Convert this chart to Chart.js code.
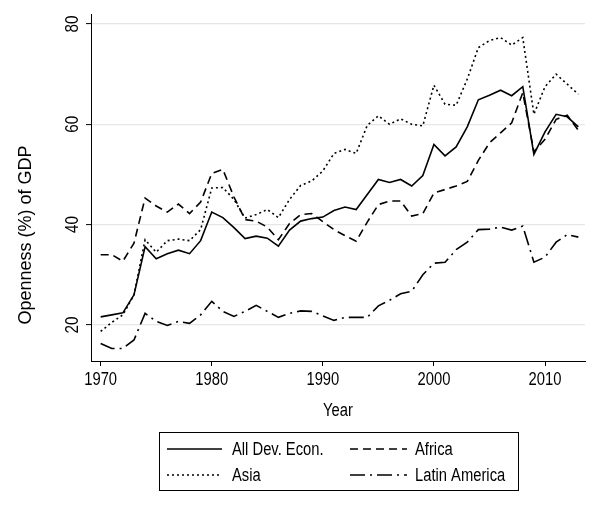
<!DOCTYPE html>
<html>
<head>
<meta charset="utf-8">
<script src="https://cdn.jsdelivr.net/npm/chart.js@4"></script>
<style>
  html, body { margin: 0; padding: 0; background: #ffffff; }
  canvas { display: block; }
</style>
</head>
<body>
<canvas id="c" width="601" height="513"></canvas>
<script>
const years = [1970,1971,1972,1973,1974,1975,1976,1977,1978,1979,1980,1981,1982,1983,1984,1985,1986,1987,1988,1989,1990,1991,1992,1993,1994,1995,1996,1997,1998,1999,2000,2001,2002,2003,2004,2005,2006,2007,2008,2009,2010,2011,2012,2013];
const allDevEcon = [21.6,22.0,22.4,26.0,35.6,33.2,34.2,34.9,34.2,36.8,42.5,41.4,39.4,37.2,37.7,37.3,35.7,38.9,40.7,41.2,41.5,42.8,43.5,43.0,46.0,49.0,48.4,49.0,47.7,49.8,56.0,53.7,55.5,59.5,64.9,65.8,66.8,65.7,67.5,54.0,58.5,62.0,61.5,59.5];
const africa = [34.0,34.0,32.7,36.3,45.3,43.7,42.5,44.1,42.2,44.5,50.2,51.0,45.5,41.0,40.7,39.5,37.0,40.2,42.0,42.2,40.6,39.0,37.8,36.7,40.5,44.0,44.7,44.7,41.7,42.2,46.3,47.0,47.7,48.6,52.8,56.3,58.3,60.3,66.3,54.5,57.0,61.0,61.8,58.8];
const asia = [18.7,20.5,22.0,26.0,37.0,34.5,36.8,37.1,36.8,39.0,47.3,47.4,45.0,41.3,42.0,43.0,41.4,45.0,47.8,48.7,50.7,54.2,55.0,54.2,59.8,61.7,60.0,61.1,60.0,59.7,67.8,64.0,63.8,69.0,75.3,76.7,77.3,75.8,77.3,62.0,67.5,70.0,68.0,66.0];
const latinAmerica = [16.3,15.3,15.3,17.0,22.3,20.7,19.9,20.7,20.3,22.0,24.7,22.7,21.7,22.7,23.9,22.7,21.5,22.3,22.8,22.7,21.8,20.9,21.5,21.5,21.5,23.8,24.9,26.2,26.7,30.0,32.3,32.5,35.0,36.5,39.0,39.1,39.5,38.9,39.7,32.5,33.5,36.5,38.0,37.5];
const xTickValues = [1970,1980,1990,2000,2010];
const yTickValues = [20,40,60,80];
const seriesLabels = ["All Dev. Econ.","Africa","Asia","Latin America"];
const xTitle = "Year";
const yTitle = "Openness (%) of GDP";

const FONT = "'Liberation Sans', Arial, Helvetica, sans-serif";
const FS = 18;     // font size (px)
const SX = 0.82;   // horizontal condensing of the text

function pts(arr){ return years.map((yr,i)=>({x:yr, y:arr[i]})); }

const dashes = [[], [8,5], [2,3], [15,5,2,5]];
const seriesData = [allDevEcon, africa, asia, latinAmerica];

const datasets = seriesData.map((arr,i)=>({
  label: seriesLabels[i],
  data: pts(arr),
  borderColor: '#000000',
  backgroundColor: '#000000',
  borderWidth: 1.6,
  borderDash: dashes[i],
  pointRadius: 0,
  tension: 0,
  fill: false
}));

function drawText(ctx, text, x, y, o){
  ctx.save();
  ctx.translate(x, y);
  if (o.rotate) ctx.rotate(o.rotate);
  ctx.scale(o.sx || 1, 1);
  ctx.font = (o.size || FS) + 'px ' + FONT;
  ctx.fillStyle = '#000';
  ctx.textAlign = o.align || 'center';
  ctx.textBaseline = o.baseline || 'alphabetic';
  ctx.fillText(text, 0, 0);
  ctx.restore();
}

const bgPlugin = {
  id: 'bg',
  beforeDraw(chart){
    const ctx = chart.ctx;
    ctx.save(); ctx.fillStyle = '#ffffff'; ctx.fillRect(0,0,chart.width,chart.height); ctx.restore();
  }
};

const textPlugin = {
  id: 'texts',
  afterDraw(chart){
    const ctx = chart.ctx, xs = chart.scales.x, ys = chart.scales.y, ca = chart.chartArea;
    // x tick labels
    xs.ticks.forEach(t=>{
      drawText(ctx, String(t.value), xs.getPixelForValue(t.value), 385, {sx: SX});
    });
    // y tick labels (rotated)
    ys.ticks.forEach(t=>{
      drawText(ctx, String(t.value), 78, ys.getPixelForValue(t.value), {rotate: -Math.PI/2, sx: 0.85});
    });
    // titles
    drawText(ctx, xTitle, (ca.left + ca.right)/2, 416, {sx: SX});
    drawText(ctx, yTitle, 31, 235, {rotate: -Math.PI/2});
  }
};

const legendPlugin = {
  id: 'boxLegend',
  afterDraw(chart){
    const ctx = chart.ctx;
    const box = {x:159.5, y:432.5, w:359, h:58};
    ctx.save();
    ctx.strokeStyle = '#000'; ctx.lineWidth = 1;
    ctx.setLineDash([]);
    ctx.strokeRect(box.x, box.y, box.w, box.h);
    const cols = [{x0:167, x1:222, tx:232},{x0:350, x1:407, tx:415}];
    const rows = [449, 475];
    const order = [[0,0],[0,1],[1,0],[1,1]]; // [row,col]
    chart.data.datasets.forEach((ds,i)=>{
      const r = rows[order[i][0]], c = cols[order[i][1]];
      ctx.beginPath();
      ctx.setLineDash(ds.borderDash || []);
      ctx.lineWidth = ds.borderWidth;
      ctx.strokeStyle = ds.borderColor;
      ctx.moveTo(c.x0, r); ctx.lineTo(c.x1, r);
      ctx.stroke();
      ctx.setLineDash([]);
      drawText(ctx, ds.label, c.tx, r + 6, {sx: SX, align: 'left'});
    });
    ctx.restore();
  }
};

new Chart(document.getElementById('c'), {
  type: 'line',
  data: { datasets },
  options: {
    responsive: false,
    animation: false,
    layout: { padding: { left: 0, right: 16, top: 14, bottom: 93 } },
    plugins: { legend: { display: false }, tooltip: { enabled: false } },
    scales: {
      x: {
        type: 'linear',
        min: 1969.13,
        max: 2013.6,
        afterBuildTicks(scale){ scale.ticks = xTickValues.map(v=>({value:v})); },
        afterFit(scale){ scale.height = 59; },
        grid: { drawOnChartArea: false, drawTicks: true, tickLength: 5, tickColor: '#000', tickWidth: 1 },
        border: { display: true, color: '#000', width: 1 },
        ticks: { display: false },
        title: { display: false }
      },
      y: {
        type: 'linear',
        min: 12.8,
        max: 82,
        afterBuildTicks(scale){ scale.ticks = yTickValues.map(v=>({value:v})); },
        afterFit(scale){ scale.width = 91; },
        grid: { drawOnChartArea: true, color: '#e6e6e6', lineWidth: 1.2, drawTicks: true, tickLength: 5, tickColor: '#000', tickWidth: 1 },
        border: { display: true, color: '#000', width: 1 },
        ticks: { display: false },
        title: { display: false }
      }
    }
  },
  plugins: [bgPlugin, textPlugin, legendPlugin]
});
</script>
</body>
</html>
